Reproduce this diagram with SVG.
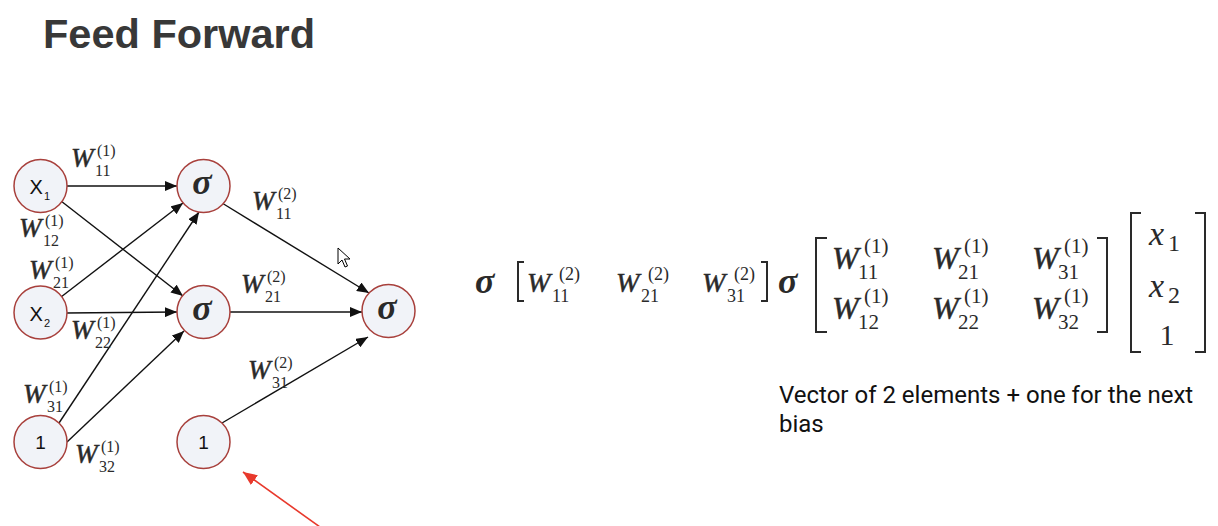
<svg xmlns="http://www.w3.org/2000/svg" width="1218" height="526" viewBox="0 0 1218 526">
<style>
  .node circle { fill: #f1f3f8; stroke: #a8403c; stroke-width: 1.5; }
  .lbl { font-family: "Liberation Sans", Arial, sans-serif; fill: #111; }
  .sig { font-family: "Liberation Serif", "Times New Roman", serif; font-style: italic; font-weight: bold; fill: #2a2a2a; }
  .w { font-family: "Liberation Serif", "Times New Roman", serif; font-style: italic; fill: #2a2a2a; stroke: #2a2a2a; stroke-width: 0.5; }
  .n { font-family: "Liberation Serif", "Times New Roman", serif; fill: #2a2a2a; }
  .edge { stroke: #111; stroke-width: 1.4; fill: none; }
  .br { stroke: #2a2a2a; stroke-width: 2; fill: none; }
</style>
<defs>
  <marker id="ah" markerUnits="userSpaceOnUse" markerWidth="12" markerHeight="10" refX="12" refY="5" orient="auto">
    <path d="M0,0 L12,5 L0,10 z" fill="#111"/>
  </marker>
  <marker id="ahr" markerUnits="userSpaceOnUse" markerWidth="14" markerHeight="12" refX="14" refY="6" orient="auto">
    <path d="M0,0 L14,6 L0,12 z" fill="#e8392c"/>
  </marker>
</defs>
<rect width="1218" height="526" fill="#ffffff"/>

<text x="43" y="48" font-family="Liberation Sans, Arial, sans-serif" font-weight="bold" font-size="41.5" fill="#383838">Feed Forward</text>

<g id="connectors">
  <line class="edge" x1="66" y1="186" x2="177" y2="186" marker-end="url(#ah)"/>
  <line class="edge" x1="61" y1="201" x2="183" y2="296" marker-end="url(#ah)"/>
  <line class="edge" x1="61" y1="297" x2="183" y2="203" marker-end="url(#ah)"/>
  <line class="edge" x1="66" y1="313" x2="177" y2="312" marker-end="url(#ah)"/>
  <line class="edge" x1="59" y1="423" x2="199" y2="212" marker-end="url(#ah)"/>
  <line class="edge" x1="67" y1="442" x2="184" y2="331" marker-end="url(#ah)"/>
  <line class="edge" x1="222" y1="203" x2="369" y2="293" marker-end="url(#ah)"/>
  <line class="edge" x1="230" y1="312" x2="362" y2="312" marker-end="url(#ah)"/>
  <line class="edge" x1="222" y1="423" x2="368" y2="337" marker-end="url(#ah)"/>
  <line x1="320" y1="527" x2="243" y2="472" stroke="#e8392c" stroke-width="1.6" marker-end="url(#ahr)"/>
</g>

<g id="node-x1" class="node"><circle cx="40.5" cy="186" r="26.5"/><text class="lbl" x="29.5" y="194" font-size="20">X</text><text class="lbl" x="44" y="200" font-size="11">1</text></g>
<g id="node-x2" class="node"><circle cx="40.5" cy="312.5" r="26.5"/><text class="lbl" x="29.5" y="321" font-size="20">X</text><text class="lbl" x="44" y="327" font-size="11">2</text></g>
<g id="node-b1" class="node"><circle cx="40.5" cy="442" r="26.5"/><text class="lbl" x="40.5" y="449" font-size="19" text-anchor="middle">1</text></g>
<g id="node-s1" class="node"><circle cx="203.5" cy="186" r="26.5"/><text class="sig" x="202" y="194" font-size="36" text-anchor="middle">σ</text></g>
<g id="node-s2" class="node"><circle cx="203.5" cy="312" r="26.5"/><text class="sig" x="202" y="320" font-size="36" text-anchor="middle">σ</text></g>
<g id="node-b2" class="node"><circle cx="203.5" cy="442" r="26.5"/><text class="lbl" x="203.5" y="449" font-size="19" text-anchor="middle">1</text></g>
<g id="node-out" class="node"><circle cx="388.5" cy="311" r="26.5"/><text class="sig" x="387" y="319" font-size="36" text-anchor="middle">σ</text></g>

<g id="weight-labels">
  <g><text class="w" x="71" y="167" font-size="27">W</text><text class="n" x="97" y="156" font-size="16">(1)</text><text class="n" x="95" y="176" font-size="16">11</text></g>
  <g><text class="w" x="19" y="237" font-size="27">W</text><text class="n" x="45" y="226" font-size="16">(1)</text><text class="n" x="43" y="246" font-size="16">12</text></g>
  <g><text class="w" x="29" y="279" font-size="27">W</text><text class="n" x="55" y="268" font-size="16">(1)</text><text class="n" x="53" y="288" font-size="16">21</text></g>
  <g><text class="w" x="71" y="339" font-size="27">W</text><text class="n" x="97" y="328" font-size="16">(1)</text><text class="n" x="95" y="348" font-size="16">22</text></g>
  <g><text class="w" x="23" y="403" font-size="27">W</text><text class="n" x="49" y="392" font-size="16">(1)</text><text class="n" x="47" y="412" font-size="16">31</text></g>
  <g><text class="w" x="75" y="463" font-size="27">W</text><text class="n" x="101" y="452" font-size="16">(1)</text><text class="n" x="99" y="472" font-size="16">32</text></g>
  <g><text class="w" x="252" y="210" font-size="27">W</text><text class="n" x="278" y="199" font-size="16">(2)</text><text class="n" x="276" y="219" font-size="16">11</text></g>
  <g><text class="w" x="241" y="293" font-size="27">W</text><text class="n" x="267" y="282" font-size="16">(2)</text><text class="n" x="265" y="302" font-size="16">21</text></g>
  <g><text class="w" x="248" y="379" font-size="27">W</text><text class="n" x="274" y="368" font-size="16">(2)</text><text class="n" x="272" y="388" font-size="16">31</text></g>
</g>

<g id="equation">
  <text class="sig" x="475" y="293" font-size="36">σ</text>
  <path class="br" d="M524,262 H518 V301 H524"/>
  <text class="w" x="527" y="292" font-size="28">W</text><text class="n" x="559" y="280" font-size="18">(2)</text><text class="n" x="552" y="302" font-size="18">11</text>
  <text class="w" x="616" y="292" font-size="28">W</text><text class="n" x="648" y="280" font-size="18">(2)</text><text class="n" x="641" y="302" font-size="18">21</text>
  <text class="w" x="702" y="292" font-size="28">W</text><text class="n" x="734" y="280" font-size="18">(2)</text><text class="n" x="727" y="302" font-size="18">31</text>
  <path class="br" d="M761,262 H767 V301 H761"/>
  <text class="sig" x="778" y="293" font-size="36">σ</text>
  <path class="br" d="M827,238 H816 V332 H827"/>
  <text class="w" x="832" y="269" font-size="32">W</text><text class="n" x="864" y="253" font-size="21">(1)</text><text class="n" x="858" y="279" font-size="21">11</text>
  <text class="w" x="932" y="269" font-size="32">W</text><text class="n" x="964" y="253" font-size="21">(1)</text><text class="n" x="958" y="279" font-size="21">21</text>
  <text class="w" x="1032" y="269" font-size="32">W</text><text class="n" x="1064" y="253" font-size="21">(1)</text><text class="n" x="1058" y="279" font-size="21">31</text>
  <text class="w" x="832" y="319" font-size="32">W</text><text class="n" x="864" y="303" font-size="21">(1)</text><text class="n" x="858" y="329" font-size="21">12</text>
  <text class="w" x="932" y="319" font-size="32">W</text><text class="n" x="964" y="303" font-size="21">(1)</text><text class="n" x="958" y="329" font-size="21">22</text>
  <text class="w" x="1032" y="319" font-size="32">W</text><text class="n" x="1064" y="303" font-size="21">(1)</text><text class="n" x="1058" y="329" font-size="21">32</text>
  <path class="br" d="M1097,238 H1107 V332 H1097"/>
  <path class="br" d="M1141,213 H1131 V352 H1141"/>
  <text class="n" x="1149" y="245" font-size="34" font-style="italic">x</text><text class="n" x="1168" y="251" font-size="24">1</text>
  <text class="n" x="1149" y="297" font-size="34" font-style="italic">x</text><text class="n" x="1168" y="303" font-size="24">2</text>
  <text class="n" x="1167" y="345" font-size="30" text-anchor="middle">1</text>
  <path class="br" d="M1195,213 H1205 V352 H1195"/>
</g>

<g id="note">
  <text x="779" y="403" font-family="Roboto, sans-serif" font-size="24" fill="#111">Vector of 2 elements + one for the next</text>
  <text x="779" y="432" font-family="Roboto, sans-serif" font-size="24" fill="#111">bias</text>
</g>

<g id="cursor">
  <path d="M338,248 L338,264 L342,260 L345,267 L347.5,266 L344.5,259 L350,259 Z" fill="#fff" stroke="#000" stroke-width="1"/>
</g>
</svg>
